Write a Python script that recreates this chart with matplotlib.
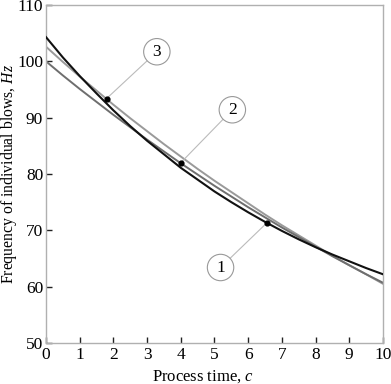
import matplotlib
matplotlib.use("Agg")
import matplotlib.pyplot as plt

plt.rcParams['font.family'] = ['Liberation Serif', 'DejaVu Serif']
plt.rcParams['mathtext.fontset'] = 'custom'
plt.rcParams['mathtext.it'] = 'Liberation Serif:italic'
plt.rcParams['mathtext.rm'] = 'Liberation Serif'

x = [0, 0.5, 1, 1.5, 2, 2.5, 3, 3.5, 4, 4.5, 5, 5.5, 6, 6.5, 7, 7.5, 8, 8.5, 9, 9.5, 10]
curve1 = [104.3, 100.7, 97.4, 94.3, 91.3, 88.5, 85.9, 83.5, 81.1, 79.0, 76.9, 75.0,
          73.2, 71.5, 69.9, 68.4, 67.0, 65.7, 64.5, 63.3, 62.2]
curve2 = [100.0, 97.5, 95.1, 92.8, 90.5, 88.3, 86.1, 84.0, 81.9, 79.9, 77.9, 76.0,
          74.1, 72.3, 70.5, 68.8, 67.1, 65.4, 63.8, 62.2, 60.7]
curve3 = [102.6, 99.9, 97.3, 94.8, 92.3, 89.9, 87.6, 85.3, 83.1, 80.9, 78.8, 76.8,
          74.8, 72.8, 70.9, 69.1, 67.3, 65.5, 63.8, 62.2, 60.5]

labels = ['1', '2', '3']
marker_x = [6.55, 4.0, 1.8]
marker_y = [71.3, 82.0, 93.4]
label_x = [5.18, 5.53, 3.29]
label_y = [63.4, 91.4, 101.7]

fig = plt.figure(figsize=(3.91, 3.84), dpi=100)
ax = fig.add_axes([0.1176, 0.1068, 0.8619, 0.8802])

ax.plot(x, curve3, color='#9a9a9a', lw=1.4, zorder=2)
ax.plot(x, curve2, color='#6e6e6e', lw=1.4, zorder=2)
ax.plot(x, curve1, color='#111111', lw=1.5, zorder=3)

ax.scatter(marker_x, marker_y, s=12, color='black', zorder=5)
for lab, mx, my, lx, ly in zip(labels, marker_x, marker_y, label_x, label_y):
    ax.annotate(lab, xy=(mx, my), xytext=(lx, ly), ha='center', va='center',
                fontsize=12.5,
                bbox=dict(boxstyle='circle,pad=0.3', fc='white', ec='#999999', lw=0.8),
                arrowprops=dict(arrowstyle='-', color='#bbbbbb', lw=0.8,
                                shrinkA=0, shrinkB=0), zorder=4)

ax.set_xlim(0, 10)
ax.set_ylim(50, 110)
ax.set_xticks(range(0, 11))
ax.set_yticks(range(50, 111, 10))
ax.tick_params(direction='in', length=4, width=1, labelsize=12.5, color='#222222',
               top=False, right=False, pad=3)
ax.tick_params(axis='y', pad=2)
for s in ax.spines.values():
    s.set_color('#b0b0b0')
    s.set_linewidth(1)

ax.set_xlabel('Process time, $c$', fontsize=12, va='baseline')
ax.xaxis.set_label_coords(0.466, -0.111)
ax.set_ylabel('Frequency of individual blows, $Hz$', fontsize=11.3, va='center')
ax.yaxis.set_label_coords(-0.1098, 0.5)

fig.savefig('out.png', dpi=100)
